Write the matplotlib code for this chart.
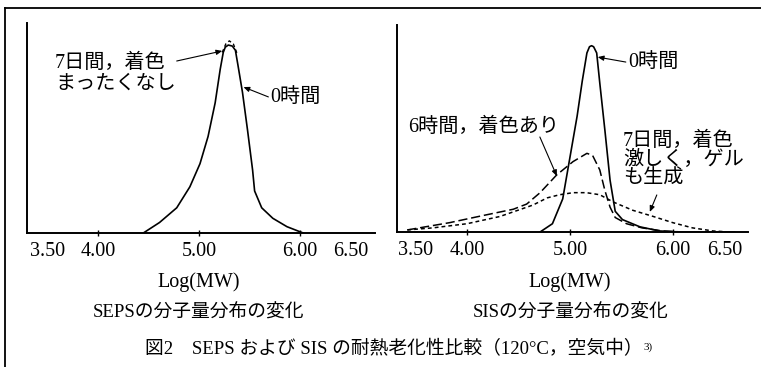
import matplotlib
matplotlib.use("Agg")
import matplotlib.pyplot as plt
from matplotlib.lines import Line2D

plt.rcParams['font.family'] = ['Liberation Serif', 'Noto Sans CJK JP', 'DejaVu Sans']

# ---------------- data ----------------
tick_values = [3.5, 4.0, 5.0, 6.0, 6.5]
tick_labels = ["3.50", "4.00", "5.00", "6.00", "6.50"]

# SEPS, 0 hours (solid)
seps_0h_x = [4.45, 4.61, 4.78, 4.91, 5.01, 5.09, 5.16, 5.21, 5.24, 5.26, 5.29, 5.33,
             5.36, 5.385, 5.43, 5.48, 5.53, 5.55, 5.62, 5.73, 5.87, 6.03]
seps_0h_y = [0.0, 0.05, 0.12, 0.22, 0.33, 0.46, 0.62, 0.78, 0.86, 0.885, 0.895, 0.89,
             0.87, 0.80, 0.67, 0.49, 0.30, 0.20, 0.12, 0.07, 0.03, 0.0]
# SEPS, 7 days (dashed, only visible at the peak)
seps_7d_x = [5.23, 5.265, 5.30, 5.34, 5.38]
seps_7d_y = [0.86, 0.90, 0.915, 0.90, 0.85]

# SIS, 0 hours (solid)
sis_0h_x = [4.71, 4.83, 4.93, 5.00, 5.07, 5.12, 5.165, 5.19, 5.21, 5.23, 5.26, 5.29,
            5.34, 5.39, 5.44, 5.51, 5.68, 5.87, 6.07, 6.6]
sis_0h_y = [0.0, 0.04, 0.16, 0.36, 0.56, 0.73, 0.865, 0.895, 0.90, 0.895, 0.865, 0.72,
            0.49, 0.25, 0.10, 0.06, 0.025, 0.005, 0.0, 0.0]
# SIS, 6 hours (long dashes)
sis_6h_x = [3.42, 3.83, 4.16, 4.45, 4.58, 4.71, 4.87, 5.03, 5.165, 5.22, 5.29, 5.34,
            5.39, 5.44, 5.55, 5.70, 5.90, 6.10]
sis_6h_y = [0.01, 0.045, 0.08, 0.11, 0.135, 0.19, 0.275, 0.34, 0.38, 0.37, 0.30, 0.20,
            0.12, 0.07, 0.04, 0.02, 0.005, 0.0]
# SIS, 7 days (short dashes)
sis_7d_x = [3.42, 3.67, 4.00, 4.32, 4.64, 4.78, 4.90, 5.03, 5.16, 5.29, 5.42, 5.61,
            5.81, 6.00, 6.19, 6.39, 6.55]
sis_7d_y = [0.01, 0.02, 0.04, 0.075, 0.13, 0.165, 0.18, 0.19, 0.19, 0.18, 0.145, 0.105,
            0.075, 0.045, 0.02, 0.005, 0.0]

W, H = 761, 367
fig = plt.figure(figsize=(W / 100, H / 100), dpi=100)


def fx(px):
    return px / W


def fy(py):
    return 1 - py / H


ax1 = fig.add_axes([fx(27), fy(233), fx(375 - 27), (233 - 23) / H])
ax2 = fig.add_axes([fx(397), fy(232), fx(748 - 397), (232 - 25) / H])

for ax, lim in ((ax1, (3.30, 6.74)), (ax2, (3.32, 6.73))):
    ax.set_xlim(*lim)
    ax.set_ylim(0, 1)
    ax.spines['top'].set_visible(False)
    ax.spines['right'].set_visible(False)
    ax.spines['left'].set_linewidth(1.4)
    ax.spines['bottom'].set_linewidth(1.4)
    ax.set_yticks([])
    ax.set_xticks(tick_values)
    ax.set_xticklabels(tick_labels)
    ax.tick_params(axis='x', direction='inout', length=5, width=1.0, pad=4,
                   labelsize=14.5)
    ticks = ax.xaxis.get_major_ticks()
    ticks[0].tick1line.set_visible(False)
    ticks[-1].tick1line.set_visible(False)
    ax.patch.set_visible(False)

lw = 1.2
ax1.plot(seps_0h_x, seps_0h_y, color='black', lw=lw)
ax1.plot(seps_7d_x, seps_7d_y, color='black', lw=1.0, dashes=(2.5, 2))

ax2.plot(sis_0h_x, sis_0h_y, color='black', lw=lw)
ax2.plot(sis_6h_x, sis_6h_y, color='black', lw=1.1, dashes=(6, 2.5))
ax2.plot(sis_7d_x, sis_7d_y, color='black', lw=1.1, dashes=(2.5, 2))

arrow = dict(arrowstyle='-|>,head_length=0.35,head_width=0.15', color='black',
             lw=0.8, shrinkA=0, shrinkB=0)
afs = 14.5

ax1.annotate("7日間，着色\nまったくなし", xy=(5.23, 0.867), xytext=(3.577, 0.76),
             ha='left', va='center', fontsize=afs, linespacing=1.1)
ax1.annotate("", xy=(5.23, 0.867), xytext=(4.78, 0.819), arrowprops=arrow)
ax1.annotate("0時間", xy=(5.44, 0.695), xytext=(5.705, 0.643),
             ha='left', va='center', fontsize=afs)
ax1.annotate("", xy=(5.44, 0.695), xytext=(5.686, 0.648), arrowprops=arrow)

ax2.annotate("0時間", xy=(5.27, 0.845), xytext=(5.563, 0.821),
             ha='left', va='center', fontsize=afs)
ax2.annotate("", xy=(5.27, 0.845), xytext=(5.543, 0.821), arrowprops=arrow)
ax2.annotate("6時間，着色あり", xy=(4.873, 0.27), xytext=(3.427, 0.507),
             ha='left', va='center', fontsize=afs)
ax2.annotate("", xy=(4.873, 0.27), xytext=(4.708, 0.459), arrowprops=arrow)
ax2.annotate("7日間，着色\n激しく，ゲル\nも生成", xy=(5.776, 0.097), xytext=(5.514, 0.348),
             ha='left', va='center', fontsize=afs, linespacing=1.0)
ax2.annotate("", xy=(5.776, 0.097), xytext=(5.844, 0.179), arrowprops=arrow)

# axis labels and sub-titles
fig.text(fx(199), fy(282), "Log(MW)", ha='center', va='center', fontsize=14.5)
fig.text(fx(570), fy(282), "Log(MW)", ha='center', va='center', fontsize=14.5)
fig.text(fx(199), fy(313), "SEPSの分子量分布の変化", ha='center', va='center', fontsize=13.5)
fig.text(fx(571), fy(313), "SISの分子量分布の変化", ha='center', va='center', fontsize=13.5)
cap = fig.text(fx(394), fy(349), "図2　SEPS および SIS の耐熱老化性比較（120°C，空気中）",
               ha='center', va='center', fontsize=13.5)

# frame lines of the scanned figure
fig.add_artist(Line2D([fx(5), 1], [fy(8), fy(8)], color='black', lw=1.3,
                      transform=fig.transFigure))
fig.add_artist(Line2D([fx(5), fx(5)], [0, fy(8)], color='black', lw=1.3,
                      transform=fig.transFigure))

fig.canvas.draw()
bb = cap.get_window_extent()
fig.text(bb.x1 / W + 0.001, (bb.y1 - 2) / H, "3)", ha='left', va='top', fontsize=8)

fig.savefig("out.png", dpi=100)
